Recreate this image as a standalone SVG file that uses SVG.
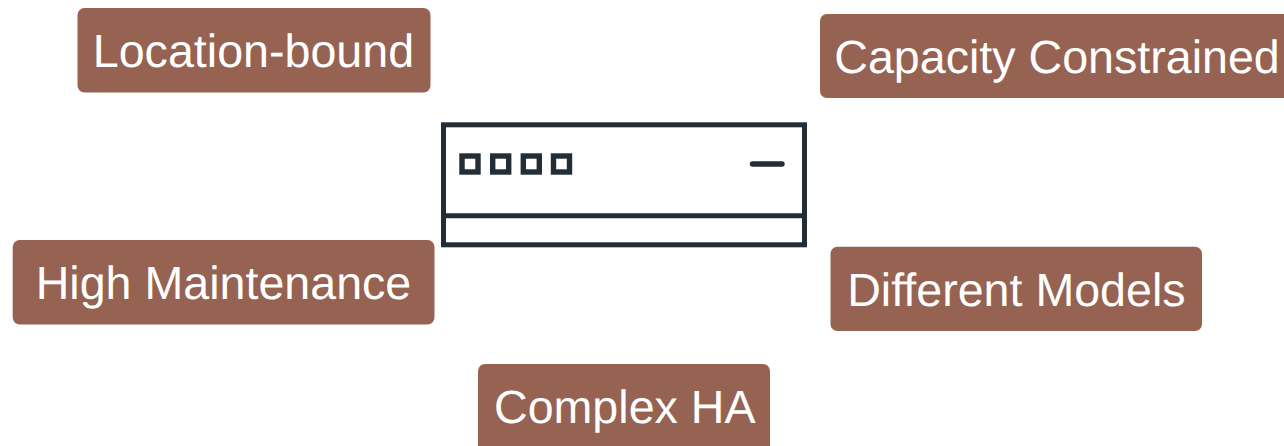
<svg xmlns="http://www.w3.org/2000/svg" width="1284" height="446" viewBox="0 0 1284 446">
<style>
.box{fill:#966251}
.lbl{fill:#fff;font-family:"Liberation Sans",Arial,sans-serif;font-size:46.6px;text-rendering:geometricPrecision}
.line{fill:none;stroke:#222d35;stroke-width:5}
.port{fill:none;stroke:#222d35;stroke-width:5.4}
.dash{fill:none;stroke:#222d35;stroke-width:5.4;stroke-linecap:round}
</style>
<rect width="1284" height="446" fill="#fff"/>
<g id="server-icon">
<rect class="line" x="443.5" y="124.8" width="361" height="120"/>
<line class="line" x1="443.5" y1="215.7" x2="804.5" y2="215.7"/>
<rect class="port" x="462" y="156" width="16" height="16"/>
<rect class="port" x="492.7" y="156" width="16" height="16"/>
<rect class="port" x="523.3" y="156" width="16" height="16"/>
<rect class="port" x="553.5" y="156" width="16" height="16"/>
<line class="dash" x1="752.5" y1="164" x2="782" y2="164"/>
</g>
<g id="location-bound"><rect class="box" x="77.5" y="8" width="353" height="84.5" rx="7"/><text class="lbl" x="92.8" y="67">Location-bound</text></g>
<g id="capacity-constrained"><rect class="box" x="820" y="14" width="475" height="84" rx="7"/><text class="lbl" x="834.3" y="72.5">Capacity Constrained</text></g>
<g id="high-maintenance"><rect class="box" x="12.7" y="240" width="421.8" height="84.5" rx="7"/><text class="lbl" x="35.7" y="299">High Maintenance</text></g>
<g id="different-models"><rect class="box" x="830.5" y="246.7" width="371.5" height="84.3" rx="7"/><text class="lbl" x="847.2" y="306">Different Models</text></g>
<g id="complex-ha"><rect class="box" x="478" y="364" width="292" height="95" rx="7"/><text class="lbl" x="494" y="423">Complex HA</text></g>
</svg>
